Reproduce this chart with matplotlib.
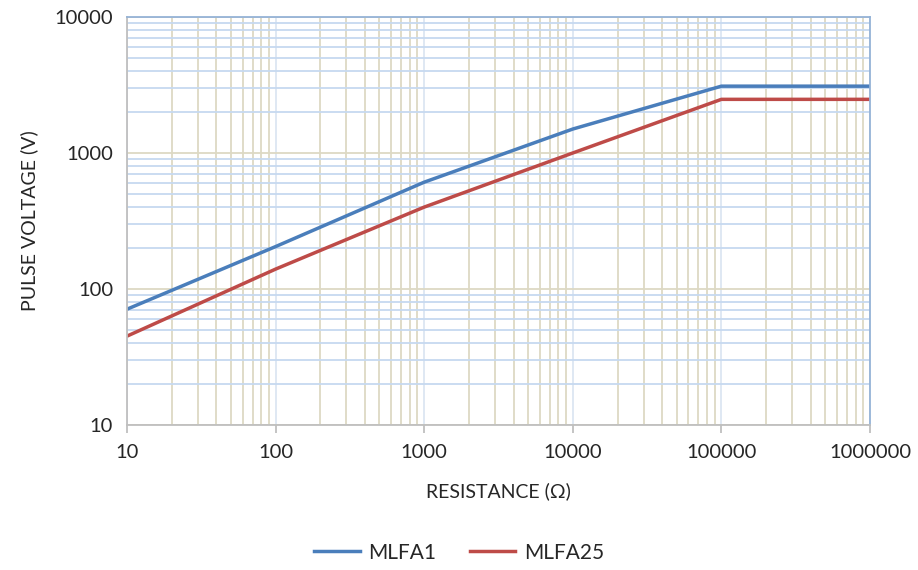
import matplotlib
matplotlib.use('Agg')
import matplotlib.pyplot as plt
from matplotlib.ticker import LogLocator, FixedLocator, NullFormatter

plt.rcParams['font.family'] = ['Lato', 'DejaVu Sans']

resistance = [10, 100, 1000, 10000, 100000, 1000000]
mlfa1 = [71, 205, 610, 1500, 3100, 3100]
mlfa25 = [45, 140, 400, 1000, 2480, 2480]

BLUE_GRID = '#c6d9f0'
TAN_GRID = '#ddd9c4'

fig = plt.figure(figsize=(9.18, 5.7), dpi=100)
ax = fig.add_axes([0.1383, 0.2544, 0.8094, 0.7158])

ax.set_xscale('log')
ax.set_yscale('log')
ax.set_xlim(10, 1e6)
ax.set_ylim(10, 10000)

ax.xaxis.set_major_locator(FixedLocator(resistance))
ax.yaxis.set_major_locator(FixedLocator([10, 100, 1000, 10000]))
ax.xaxis.set_minor_locator(LogLocator(base=10, subs=range(2, 10), numticks=20))
ax.yaxis.set_minor_locator(LogLocator(base=10, subs=range(2, 10), numticks=20))
ax.xaxis.set_minor_formatter(NullFormatter())
ax.yaxis.set_minor_formatter(NullFormatter())
ax.set_xticklabels([str(v) for v in resistance])
ax.set_yticklabels(['10', '100', '1000', '10000'])

ax.grid(True, axis='x', which='major', color='#dce6f2', lw=1.3)
ax.grid(True, axis='x', which='minor', color=TAN_GRID, lw=1.3)
ax.grid(True, axis='y', which='major', color=TAN_GRID, lw=1.3)
ax.grid(True, axis='y', which='minor', color=BLUE_GRID, lw=1.3)
ax.set_axisbelow(True)

ax.plot(resistance, mlfa1, color='#4a7ebb', lw=2.5, label='MLFA1')
ax.plot(resistance, mlfa25, color='#be4b48', lw=2.5, label='MLFA25')

for side in ['left', 'bottom']:
    ax.spines[side].set_color('#bfbfbf')
    ax.spines[side].set_linewidth(1.3)
for side in ['top', 'right']:
    ax.spines[side].set_color('#95b3d7')
    ax.spines[side].set_linewidth(1.3)

ax.tick_params(axis='x', which='major', length=6, width=1.3, color='#bfbfbf',
               labelsize=14.5, pad=8, labelcolor='#262626')
ax.tick_params(axis='y', which='major', length=0, labelsize=14.5, pad=10,
               labelcolor='#262626')
ax.tick_params(which='minor', length=0)

ax.set_xlabel('RESISTANCE (Ω)', fontsize=14, color='#262626', labelpad=15)
ax.set_ylabel('PULSE VOLTAGE (V)', fontsize=14, color='#262626', labelpad=12)

fig.legend(loc='lower center', bbox_to_anchor=(0.5, -0.02), ncol=2, frameon=False,
           fontsize=15, handlelength=2.2, handletextpad=0.4, columnspacing=1.6,
           labelcolor='#262626')

fig.savefig('out.png', dpi=100)
